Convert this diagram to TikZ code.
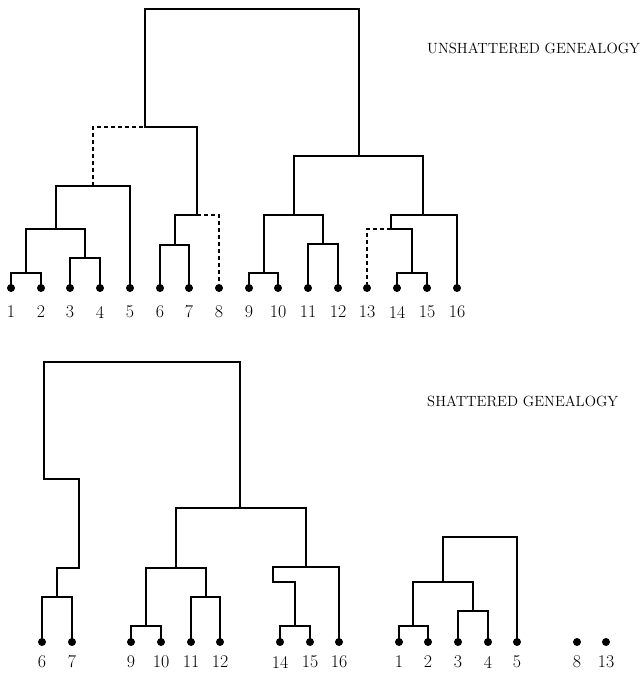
\documentclass[tikz,border=0pt]{standalone}
\begin{document}
\begin{tikzpicture}[x=1bp,y=-1bp,
  leaf/.style={circle,fill=black,inner sep=0pt,minimum size=8bp},
  br/.style={line width=2bp,line cap=rect},
  dsh/.style={line width=2bp,dash pattern=on 4bp off 3bp},
  lab/.style={font=\fontsize{18}{18}\selectfont,inner sep=0pt},
  ttl/.style={font=\fontsize{14.85}{16}\selectfont,anchor=west,inner sep=0pt}]
\useasboundingbox (0,0) rectangle (642,675);
% ---------- top: unshattered ----------
\foreach \i/\x in {1/11,2/41,3/70,4/100,5/130,6/160,7/189,8/219,9/249,10/278,11/308,12/338,13/367,14/397,15/427,16/457}{
  \node[leaf] (t\i) at (\x,288) {};
  \node[lab] (tl\i) at (\x,312) {\i};
}
\coordinate (n12) at (26,273);
\coordinate (n34) at (85,258);
\coordinate (n1234) at (56,229);
\coordinate (n15) at (93,186);
\coordinate (n67) at (175,245);
\coordinate (n678) at (197,215);
\coordinate (L) at (145,127);
\coordinate (root) at (252,9);
\coordinate (R) at (359,156);
\coordinate (n912) at (294,215);
\coordinate (n910) at (264,273);
\coordinate (n1112) at (323,244);
\coordinate (n1316) at (423,215);
\coordinate (n1315) at (391,229);
\coordinate (n1415) at (412,273);
\draw[br] (t1) |- (n12) -| (t2);
\draw[br] (t3) |- (n34) -| (t4);
\draw[br] (n12) |- (n1234) -| (n34);
\draw[br] (n1234) |- (n15) -| (t5);
\draw[br] (t6) |- (n67) -| (t7);
\draw[br] (n67) |- (n678);
\draw[dsh] (n678) -| (t8);
\draw[dsh] (n15) |- (L);
\draw[br] (L) -| (n678);
\draw[br] (L) |- (root) -| (R);
\draw[br] (t9) |- (n910) -| (t10);
\draw[br] (t11) |- (n1112) -| (t12);
\draw[br] (n910) |- (n912) -| (n1112);
\draw[br] (t14) |- (n1415) -| (t15);
\draw[br] (n1415) |- (n1315);
\draw[dsh] (n1315) -| (t13);
\draw[br] (n1315) |- (n1316) -| (t16);
\draw[br] (n912) |- (R) -| (n1316);
\node[ttl] (tt) at (427,48) {UNSHATTERED GENEALOGY};
% ---------- bottom: shattered ----------
\foreach \i/\x in {6/42,7/72,9/131,10/161,11/191,12/220,14/280,15/310,16/339,1/399,2/428,3/458,4/488,5/517,8/577,13/606}{
  \node[leaf] (b\i) at (\x,642) {};
  \node[lab] (bl\i) at (\x,662) {\i};
}
\coordinate (m67) at (57,597);
\coordinate (j1) at (79,568);
\coordinate (j2) at (44,479);
\coordinate (broot) at (142,362);
\coordinate (BR) at (240,508);
\coordinate (m912) at (176,568);
\coordinate (m910) at (146,626);
\coordinate (m1112) at (206,597);
\coordinate (m1416) at (306,567);
\coordinate (k1) at (273,582);
\coordinate (m1415) at (295,626);
\draw[br] (b6) |- (m67) -| (b7);
\draw[br] (m67) |- (j1) |- (j2) |- (broot) -| (BR);
\draw[br] (b9) |- (m910) -| (b10);
\draw[br] (b11) |- (m1112) -| (b12);
\draw[br] (m910) |- (m912) -| (m1112);
\draw[br] (b14) |- (m1415) -| (b15);
\draw[br] (m1415) |- (k1) |- (m1416) -| (b16);
\draw[br] (m912) |- (BR) -| (m1416);
\coordinate (p12) at (413,626);
\coordinate (p34) at (473,611);
\coordinate (p14) at (443,582);
\coordinate (pr) at (480,537);
\draw[br] (b1) |- (p12) -| (b2);
\draw[br] (b3) |- (p34) -| (b4);
\draw[br] (p12) |- (p14) -| (p34);
\draw[br] (p14) |- (pr) -| (b5);
\node[ttl] (st) at (427,401) {SHATTERED GENEALOGY};
\end{tikzpicture}
\end{document}
